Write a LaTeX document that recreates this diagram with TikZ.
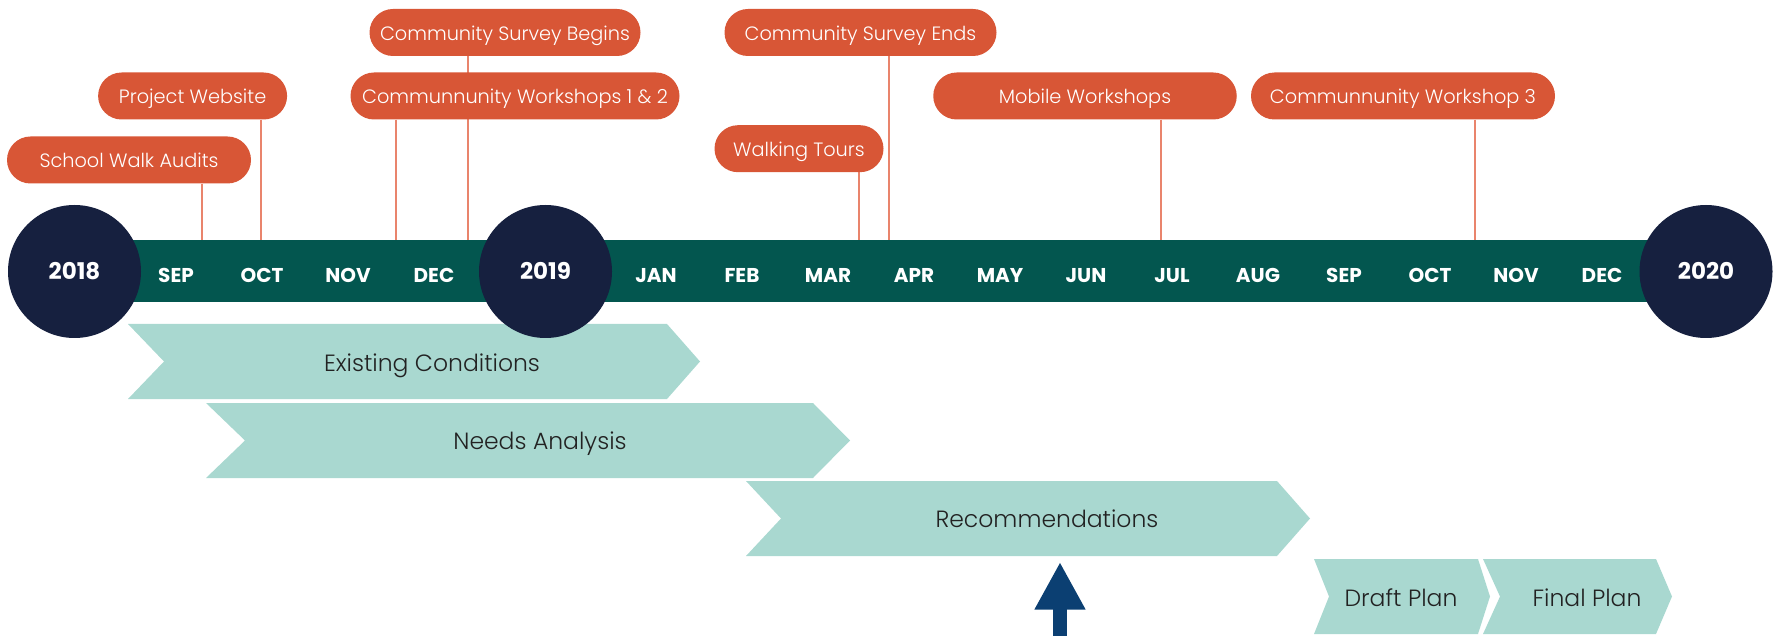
\documentclass[tikz,border=0pt]{standalone}
\usepackage{fontspec}
\setmainfont{Poppins}
\newfontfamily\poplight{Poppins Light}
\usetikzlibrary{arrows.meta,backgrounds}
\definecolor{pillorange}{HTML}{D85636}
\definecolor{tickline}{HTML}{E9846C}
\definecolor{barteal}{HTML}{03564F}
\definecolor{yearnavy}{HTML}{16203F}
\definecolor{chevfill}{HTML}{A9D8D0}
\definecolor{arrowblue}{HTML}{0B3F72}
\definecolor{chevtext}{HTML}{222222}
\newcommand\chevshape[6]{%
  \fill[chevfill] (#1,#5) -- (#3,#5) -- (#4,{(#5+#6)/2}) -- (#3,#6) -- (#1,#6) -- (#2,{(#5+#6)/2}) -- cycle;}
\begin{document}
\begin{tikzpicture}[x=1pt,y=-1pt,
  pill/.style={fill=pillorange, rounded corners=23.5pt, minimum height=47pt, inner sep=0pt,
    text=white, font=\fontsize{19.3}{22}\poplight, text height=16pt, text depth=0pt},
  tick/.style={draw=tickline, line width=2pt},
  month/.style={text=white, inner sep=0pt, font=\fontsize{20}{22}\selectfont\bfseries,
    text height=14pt, text depth=0pt},
  year/.style={circle, fill=yearnavy, minimum size=133pt, inner sep=0pt, text=white,
    font=\fontsize{23}{25}\selectfont\bfseries, text height=16pt, text depth=0pt},
  chevlabel/.style={text=chevtext, inner sep=0pt, font=\fontsize{23.5}{25}\poplight,
    text height=19pt, text depth=0pt}]
\useasboundingbox (0,0) rectangle (1781,636);

% phase chevrons
\chevshape{128}{164}{667}{700}{324}{399}
\node[chevlabel] (ec) at (432,362) {Existing Conditions};
\chevshape{206}{245}{813}{850}{403}{478}
\node[chevlabel] (na) at (540,440) {Needs Analysis};
\chevshape{746}{781}{1277}{1310}{481}{556}
\node[chevlabel] (rec) at (1047,518) {Recommendations};
\chevshape{1314}{1329}{1478}{1490}{559}{634}
\node[chevlabel] (dp) at (1401,597) {Draft Plan};
\chevshape{1483}{1500}{1656}{1672}{559}{634}
\node[chevlabel] (fp) at (1587,597) {Final Plan};

% timeline bar
\node[fill=barteal, minimum width=1633pt, minimum height=62pt, inner sep=0pt] (bar) at (889.5,271.5) {};

% event pills
\node[pill, minimum width=271pt] (csb) at (505,32.5) {Community Survey Begins};
\node[pill, minimum width=329pt] (cw12) at (515,96) {Communnunity Workshops 1 \& 2};
\node[pill, minimum width=189pt] (pw) at (192.6,96) {Project Website};
\node[pill, minimum width=244pt] (swa) at (129,160) {School Walk Audits};
\node[pill, minimum width=272pt] (cse) at (860.5,32.5) {Community Survey Ends};
\node[pill, minimum width=303.5pt] (mw) at (1085,96) {Mobile Workshops};
\node[pill, minimum width=169pt] (wt) at (799,148.7) {Walking Tours};
\node[pill, minimum width=304pt] (cw3) at (1403,96) {Communnunity Workshop 3};

% tick positions
\coordinate (xswa) at (202,0);
\coordinate (xpw) at (261,0);
\coordinate (xcwa) at (395.5,0);
\coordinate (xcwb) at (468,0);
\coordinate (xwt) at (859,0);
\coordinate (xcse) at (889,0);
\coordinate (xmw) at (1161,0);
\coordinate (xcw3) at (1475,0);

\begin{scope}[on background layer]
\draw[tick] (swa.south -| xswa) -- (bar.north -| xswa);
\draw[tick] (pw.south -| xpw) -- (bar.north -| xpw);
\draw[tick] (cw12.south -| xcwa) -- (bar.north -| xcwa);
\draw[tick] (csb.south -| xcwb) -- (bar.north -| xcwb);
\draw[tick] (wt.south -| xwt) -- (bar.north -| xwt);
\draw[tick] (cse.south -| xcse) -- (bar.north -| xcse);
\draw[tick] (mw.south -| xmw) -- (bar.north -| xmw);
\draw[tick] (cw3.south -| xcw3) -- (bar.north -| xcw3);
\end{scope}

% months
\foreach \m/\x [count=\i] in {SEP/176,OCT/262,NOV/348,DEC/434,JAN/656,FEB/742,MAR/828,APR/914,MAY/1000,JUN/1086,JUL/1172,AUG/1258,SEP/1344,OCT/1430,NOV/1516,DEC/1602}
  \node[month] (m\i) at (\x,275.5) {\m};

% years
\node[year] (y2018) at (74.5,271.5) {2018};
\node[year] (y2019) at (545.5,271.5) {2019};
\node[year] (y2020) at (1706,271.5) {2020};

% arrow
\coordinate (abot) at (1060,645);
\coordinate (atip) at (1060,562);
\draw[arrowblue, line width=14.5pt, -{Triangle[length=47.6pt,width=47.6pt]}] (abot) -- (atip);
\end{tikzpicture}
\end{document}
